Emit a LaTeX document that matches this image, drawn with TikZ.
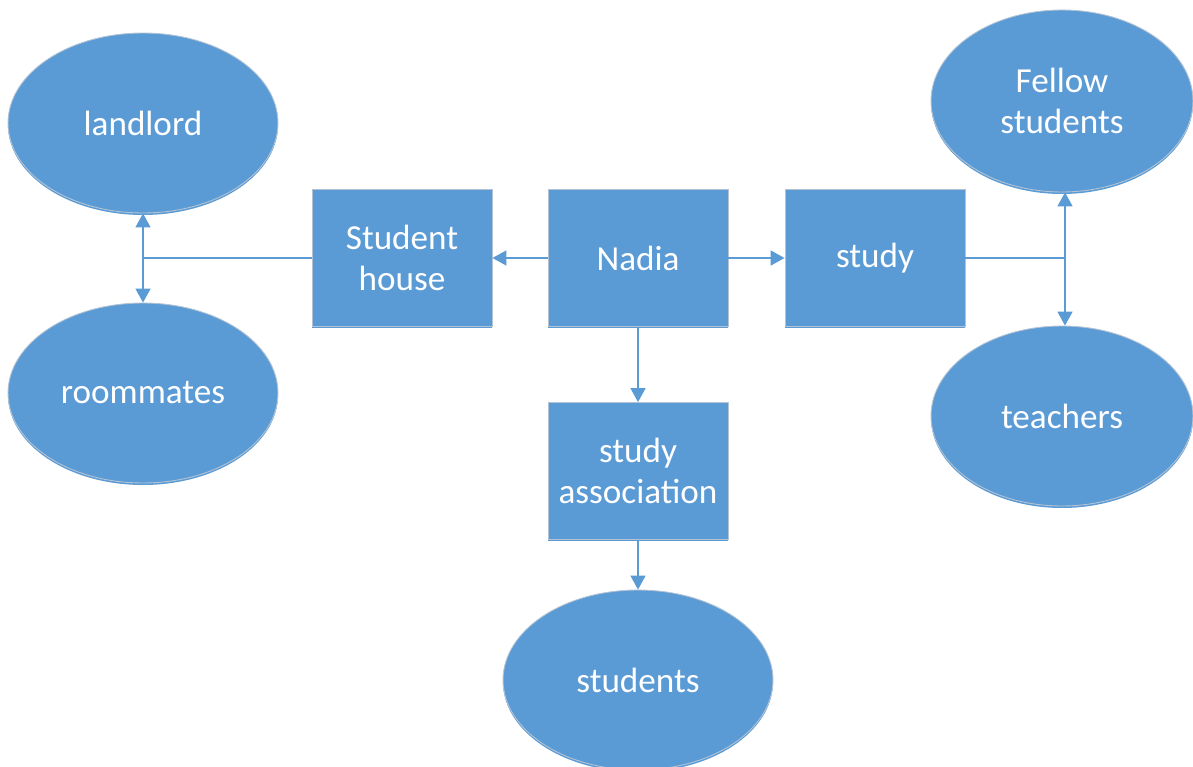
\documentclass[tikz,border=0pt]{standalone}
\usepackage{fontspec}
\setmainfont{Carlito}
\usepackage{tikz}
\usetikzlibrary{shapes.geometric}
\usetikzlibrary{shadows}
\usetikzlibrary{arrows.meta}

\definecolor{boxblue}{HTML}{5B9BD5}
\definecolor{rimgrey}{HTML}{B4C3D3}

\tikzset{
    box/.style={rectangle, draw=rimgrey, line width=0.5pt, fill=boxblue, text=white,
        minimum width=3.6cm, minimum height=2.74cm, inner sep=0pt, align=center,
        font=\fontsize{20}{23.5}\selectfont,
        drop shadow={shadow xshift=0pt, shadow yshift=-0.04cm, fill=boxblue, opacity=1}},
    blob/.style={ellipse, draw=rimgrey, line width=0.5pt, fill=boxblue, text=white,
        minimum width=5.4cm, minimum height=3.6cm, inner sep=0pt, align=center,
        font=\fontsize{20}{23.5}\selectfont,
        drop shadow={shadow xshift=0pt, shadow yshift=-0.04cm, fill=boxblue, opacity=1}},
    link/.style={draw=boxblue, line width=0.85pt},
    arr/.style={link, -{Triangle[width=0.3cm, length=0.28cm]}}
}

\begin{document}
\begin{tikzpicture}[x=0.02cm, y=-0.02cm]
    \useasboundingbox (0,0) rectangle (1193,767);

    % boxes
    \node[box] (nadia) at (638,258) {Nadia};
    \node[box] (house) at (402,258) {Student\\house};
    \node[box] (study) at (875,258) {study};
    \node[box] (assoc) at (638,471) {study\\association};

    % people
    \node[blob] (landlord) at (143,123) {landlord};
    \node[blob] (roommates) at (143,393) {roommates};
    \node[blob, minimum width=5.24cm, minimum height=3.64cm] (fellow) at (1062,101) {Fellow\\students};
    \node[blob, minimum width=5.24cm] (teachers) at (1062,416) {teachers};
    \node[blob] (students) at (638,680) {students};

    \coordinate (hj) at (143,258);
    \coordinate (sj) at (1065,258);

    % connectors
    \draw[arr] (nadia.west) -- (house.east);
    \draw[arr] (nadia.east) -- (study.west);
    \draw[arr] (nadia.south) -- (assoc.north);
    \draw[arr] (assoc.south) -- (students.north);

    \draw[link] (house.west) -- (hj);
    \draw[arr] (hj) -- (landlord.south);
    \draw[arr] (hj) -- (roommates.north);

    \draw[link] (study.east) -- (sj);
    \draw[arr] (sj) -- (fellow.south -| sj);
    \draw[arr] (sj) -- (teachers.north -| sj);
\end{tikzpicture}
\end{document}
